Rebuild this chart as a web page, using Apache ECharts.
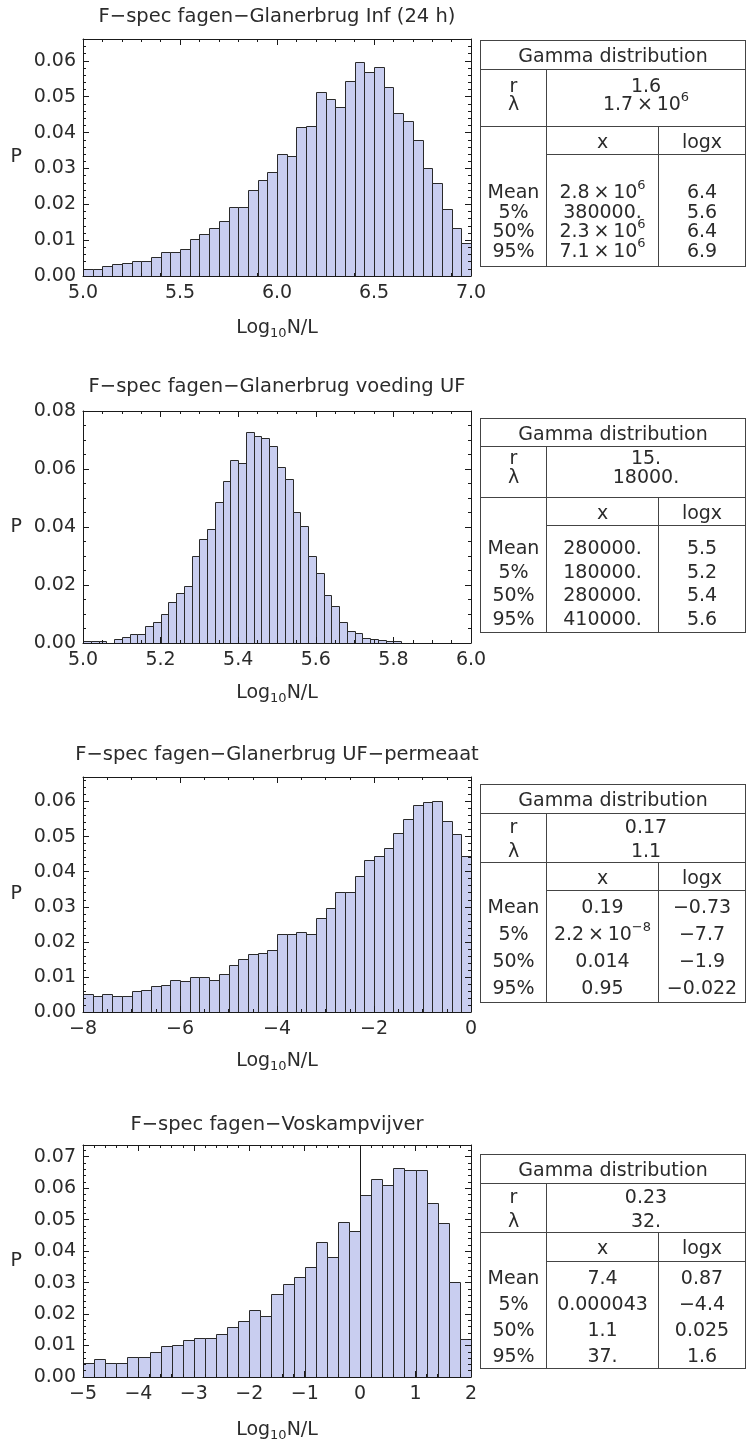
<!DOCTYPE html>
<html><head><meta charset="utf-8">
<script src="https://cdn.jsdelivr.net/npm/echarts@6/dist/echarts.min.js"></script>
<style>
html,body{margin:0;padding:0;background:#fff;}
#chart{position:absolute;left:0;top:0;width:746px;height:1443px;}
.gt{position:absolute;left:480px;width:265px;border-collapse:collapse;table-layout:fixed;border:1px solid #444;
 font-family:'DejaVu Sans',sans-serif;font-size:19px;color:#2b2b2b;}
.gt td{padding:0;text-align:center;vertical-align:middle;line-height:20px;}
.gt .bb{border-bottom:1px solid #444;}
.gt .br{border-right:1px solid #444;}
.gt .st{vertical-align:bottom;}
.gt .pr{vertical-align:top;}
.gt sup{font-size:13px;line-height:0;position:relative;top:-2px;vertical-align:super;}
</style></head><body>
<div id="chart"></div>
<div id="tables"></div>
<script>
// ---------------- data ----------------
const titles = [
  'F\u2212spec fagen\u2212Glanerbrug Inf (24 h)',
  'F\u2212spec fagen\u2212Glanerbrug voeding UF',
  'F\u2212spec fagen\u2212Glanerbrug UF\u2212permeaat',
  'F\u2212spec fagen\u2212Voskampvijver'
];
const yAxisName = 'P';

// panel 1: Inf (24 h)  -- bin left edges, bin width, probabilities
const binsInf = [5.00,5.05,5.10,5.15,5.20,5.25,5.30,5.35,5.40,5.45,5.50,5.55,5.60,5.65,5.70,5.75,5.80,5.85,5.90,5.95,
                 6.00,6.05,6.10,6.15,6.20,6.25,6.30,6.35,6.40,6.45,6.50,6.55,6.60,6.65,6.70,6.75,6.80,6.85,6.90,6.95];
const widthInf = 0.05;
const probInf = [0.0020,0.0019,0.0028,0.0033,0.0037,0.0042,0.0042,0.0054,0.0067,0.0067,0.0076,0.0103,0.0116,0.0134,0.0153,0.0192,0.0192,0.0240,0.0268,0.0289,
                 0.0340,0.0334,0.0415,0.0419,0.0513,0.0494,0.0472,0.0544,0.0597,0.0569,0.0583,0.0526,0.0454,0.0433,0.0378,0.0302,0.0259,0.0187,0.0133,0.0093];

// panel 2: voeding UF
const binsUF = [5.00,5.02,5.04,5.06,5.08,5.10,5.12,5.14,5.16,5.18,5.20,5.22,5.24,5.26,5.28,5.30,5.32,5.34,5.36,5.38,5.40,
                5.42,5.44,5.46,5.48,5.50,5.52,5.54,5.56,5.58,5.60,5.62,5.64,5.66,5.68,5.70,5.72,5.74,5.76,5.78,5.80];
const widthUF = 0.02;
const probUF = [0.0006,0.0006,0.0006,0,0.0015,0.0020,0.0030,0.0030,0.0058,0.0074,0.0101,0.0140,0.0173,0.0195,0.0300,0.0360,0.0392,0.0487,0.0559,0.0631,0.0619,
                0.0729,0.0714,0.0706,0.0680,0.0608,0.0565,0.0453,0.0405,0.0300,0.0240,0.0167,0.0128,0.0073,0.0040,0.0035,0.0018,0.0013,0.0009,0.0007,0.0007];

// panel 3: UF-permeaat
const binsPerm = [-8.0,-7.8,-7.6,-7.4,-7.2,-7.0,-6.8,-6.6,-6.4,-6.2,-6.0,-5.8,-5.6,-5.4,-5.2,-5.0,-4.8,-4.6,-4.4,-4.2,
                  -4.0,-3.8,-3.6,-3.4,-3.2,-3.0,-2.8,-2.6,-2.4,-2.2,-2.0,-1.8,-1.6,-1.4,-1.2,-1.0,-0.8,-0.6,-0.4,-0.2];
const widthPerm = 0.2;
const probPerm = [0.0050,0.0046,0.0051,0.0046,0.0046,0.0059,0.0064,0.0073,0.0078,0.0092,0.0087,0.0100,0.0100,0.0091,0.0109,0.0133,0.0151,0.0164,0.0168,0.0178,
                  0.0223,0.0223,0.0227,0.0223,0.0269,0.0296,0.0341,0.0341,0.0387,0.0432,0.0445,0.0469,0.0509,0.0550,0.0590,0.0599,0.0603,0.0545,0.0507,0.0445];

// panel 4: Voskampvijver
const binsVosk = [-5.0,-4.8,-4.6,-4.4,-4.2,-4.0,-3.8,-3.6,-3.4,-3.2,-3.0,-2.8,-2.6,-2.4,-2.2,-2.0,-1.8,-1.6,-1.4,-1.2,
                  -1.0,-0.8,-0.6,-0.4,-0.2,0.0,0.2,0.4,0.6,0.8,1.0,1.2,1.4,1.6,1.8];
const widthVosk = 0.2;
const probVosk = [0.0046,0.0057,0.0046,0.0046,0.0062,0.0062,0.0078,0.0098,0.0103,0.0118,0.0123,0.0123,0.0137,0.0158,0.0178,0.0213,0.0193,0.0264,0.0294,0.0319,
                  0.0349,0.0429,0.0380,0.0493,0.0464,0.0579,0.0630,0.0609,0.0664,0.0659,0.0659,0.0553,0.0488,0.0303,0.0121];

// tables (Gamma distribution fits)
const tableTitle = 'Gamma distribution';
const paramNames = ['r', '\u03bb'];
const gammaR = ['1.6', '15.', '0.17', '0.23'];
const gammaLambda = ['1.7\u00d710^6', '18000.', '1.1', '32.'];
const statHeaders = ['x', 'logx'];
const statLabels = ['Mean', '5%', '50%', '95%'];
const statX = [
  ['2.8\u00d710^6', '380000.', '2.3\u00d710^6', '7.1\u00d710^6'],
  ['280000.', '180000.', '280000.', '410000.'],
  ['0.19', '2.2\u00d710^\u22128', '0.014', '0.95'],
  ['7.4', '0.000043', '1.1', '37.']
];
const statLogX = [
  ['6.4', '5.6', '6.4', '6.9'],
  ['5.5', '5.2', '5.4', '5.6'],
  ['\u22120.73', '\u22127.7', '\u22121.9', '\u22120.022'],
  ['0.87', '\u22124.4', '0.025', '1.6']
];

// ---------------- layout ----------------
const FONT = "'DejaVu Sans', sans-serif";
const TXT = '#2b2b2b';
const panels = [
  {bins: binsInf,  width: widthInf,  prob: probInf,  xMin: 5, xMax: 7, xInt: 0.5, xMinor: 5, xDec: 1, yMax: 0.0661, yInt: 0.01, yMinor: 5, top: 39,  height: 237, titleTop: 6,    nameGap: 40, zeroLine: false,
   tableTop: 40,   rowA: 29, rowB: 57, rowC: 28, rowD: 112, bLH: 18, bPad: 6, dLH: 19.5, dPad: 6},
  {bins: binsUF,   width: widthUF,   prob: probUF,   xMin: 5, xMax: 6, xInt: 0.2, xMinor: 4, xDec: 1, yMax: 0.08,   yInt: 0.02, yMinor: 4, top: 411, height: 232, titleTop: 376,  nameGap: 38, zeroLine: false,
   tableTop: 418,  rowA: 28, rowB: 51, rowC: 28, rowD: 107, bLH: 19, bPad: 1, dLH: 23.5, dPad: 2},
  {bins: binsPerm, width: widthPerm, prob: probPerm, xMin: -8, xMax: 0, xInt: 2,  xMinor: 4, xDec: 0, yMax: 0.067,  yInt: 0.01, yMinor: 5, top: 777, height: 235, titleTop: 744,  nameGap: 37, zeroLine: false,
   tableTop: 784,  rowA: 29, rowB: 49, rowC: 28, rowD: 112, bLH: 24, bPad: 0, dLH: 27, dPad: 1},
  {bins: binsVosk, width: widthVosk, prob: probVosk, xMin: -5, xMax: 2, xInt: 1,  xMinor: 5, xDec: 0, yMax: 0.0737, yInt: 0.01, yMinor: 5, top: 1145,height: 234, titleTop: 1114, nameGap: 41, zeroLine: true,
   tableTop: 1154, rowA: 29, rowB: 49, rowC: 29, rowD: 107, bLH: 24, bPad: 0, dLH: 26, dPad: 0}
];

function fmtNum(v, dec) {
  return v.toFixed(dec).replace('-', '\u2212');
}

function renderHist(params, api) {
  const x0 = api.value(0), x1 = api.value(1), p = api.value(2);
  if (!(p > 0)) return null;
  const a = api.coord([x0, p]);
  const b = api.coord([x1, 0]);
  const L = Math.round(a[0]) + 0.5, R = Math.round(b[0]) + 0.5;
  const T = Math.round(a[1]) + 0.5, B = Math.round(b[1]) + 0.5;
  return {
    type: 'rect',
    shape: {x: L, y: T, width: R - L, height: B - T},
    style: {fill: '#c9cef0', stroke: '#2a2a2a', lineWidth: 1}
  };
}

const grid = [], xAxis = [], yAxis = [], series = [], title = [];
const lineCol = '#1a1a1a';
panels.forEach((p, i) => {
  grid.push({left: 83, width: 388, top: p.top, height: p.height});
  title.push({
    text: titles[i], left: 277, top: p.titleTop, textAlign: 'center', padding: 0,
    textStyle: {fontSize: 19.5, fontWeight: 'normal', color: TXT, fontFamily: FONT, lineHeight: 22}
  });
  const axisLine = {show: true, onZero: false, lineStyle: {color: lineCol, width: 1}};
  const tick = {show: true, inside: true, length: 6, lineStyle: {color: lineCol, width: 1}};
  const minorX = {show: true, splitNumber: p.xMinor, length: 3, lineStyle: {color: lineCol, width: 1}};
  const minorY = {show: true, splitNumber: p.yMinor, length: 3, lineStyle: {color: lineCol, width: 1}};
  const common = {type: 'value', gridIndex: i, z: 10, splitLine: {show: false}, minorSplitLine: {show: false}, axisLine: axisLine, axisTick: tick};
  xAxis.push(Object.assign({}, common, {
    position: 'bottom', min: p.xMin, max: p.xMax, interval: p.xInt, minorTick: minorX,
    axisLabel: {margin: 8, fontSize: 19, color: TXT, fontFamily: FONT, formatter: v => fmtNum(v, p.xDec)},
    name: '{a|Log}{b|10}{a|N/L}', nameLocation: 'middle', nameGap: p.nameGap,
    nameTextStyle: {rich: {
      a: {fontSize: 19, fontFamily: FONT, color: TXT, lineHeight: 24, verticalAlign: 'middle'},
      b: {fontSize: 13, fontFamily: FONT, color: TXT, lineHeight: 15, verticalAlign: 'bottom'}
    }}
  }));
  xAxis.push(Object.assign({}, common, {
    position: 'top', min: p.xMin, max: p.xMax, interval: p.xInt, minorTick: minorX, axisLabel: {show: false}
  }));
  yAxis.push(Object.assign({}, common, {
    position: 'left', min: 0, max: p.yMax, interval: p.yInt, minorTick: minorY,
    axisLabel: {margin: 7, fontSize: 19, color: TXT, fontFamily: FONT,
      formatter: v => (Math.abs(v / p.yInt - Math.round(v / p.yInt)) < 1e-6 ? v.toFixed(2) : '')},
    name: yAxisName, nameLocation: 'middle', nameRotate: 0, nameGap: 61,
    nameTextStyle: {fontSize: 19, fontFamily: FONT, color: TXT}
  }));
  yAxis.push(Object.assign({}, common, {
    position: 'right', min: 0, max: p.yMax, interval: p.yInt, minorTick: minorY, axisLabel: {show: false}
  }));
  const s = {
    type: 'custom', xAxisIndex: 2 * i, yAxisIndex: 2 * i, clip: true,
    data: p.bins.map((b, k) => [b, b + p.width, p.prob[k]]),
    encode: {x: [0, 1], y: 2},
    renderItem: renderHist
  };
  if (p.zeroLine) {
    s.markLine = {silent: true, symbol: ['none', 'none'], label: {show: false}, animation: false,
      lineStyle: {color: lineCol, width: 1, type: 'solid'}, data: [{xAxis: 0}]};
  }
  series.push(s);
});

const chart = echarts.init(document.getElementById('chart'), null, {renderer: 'canvas'});
chart.setOption({animation: false, backgroundColor: '#fff', title, grid, xAxis, yAxis, series});

// ---------------- tables ----------------
function fmtCell(s) {
  return s.replace(/\^(.+)$/, '<sup>$1</sup>').replace('\u00d7', '\u2009\u00d7\u2009');
}
let html = '';
panels.forEach((p, i) => {
  const bS = `line-height:${p.bLH}px;padding-top:${p.bPad}px;`;
  const dS = `line-height:${p.dLH}px;padding-bottom:${p.dPad}px;`;
  html += `<table class="gt" style="top:${p.tableTop}px">
  <colgroup><col style="width:66px"><col style="width:112px"><col style="width:87px"></colgroup>
  <tr style="height:${p.rowA}px"><td colspan="3" class="bb">${tableTitle}</td></tr>
  <tr style="height:${p.rowB}px"><td class="br bb pr" style="${bS}">${paramNames.join('<br>')}</td><td colspan="2" class="bb pr" style="${bS}">${fmtCell(gammaR[i])}<br>${fmtCell(gammaLambda[i])}</td></tr>
  <tr style="height:${p.rowC}px"><td class="br"></td><td class="br bb">${statHeaders[0]}</td><td class="bb">${statHeaders[1]}</td></tr>
  <tr style="height:${p.rowD}px"><td class="br st" style="${dS}">${statLabels.join('<br>')}</td><td class="br st" style="${dS}">${statX[i].map(fmtCell).join('<br>')}</td><td class="st" style="${dS}">${statLogX[i].map(fmtCell).join('<br>')}</td></tr>
  </table>`;
});
document.getElementById('tables').innerHTML = html;
</script>
</body></html>
